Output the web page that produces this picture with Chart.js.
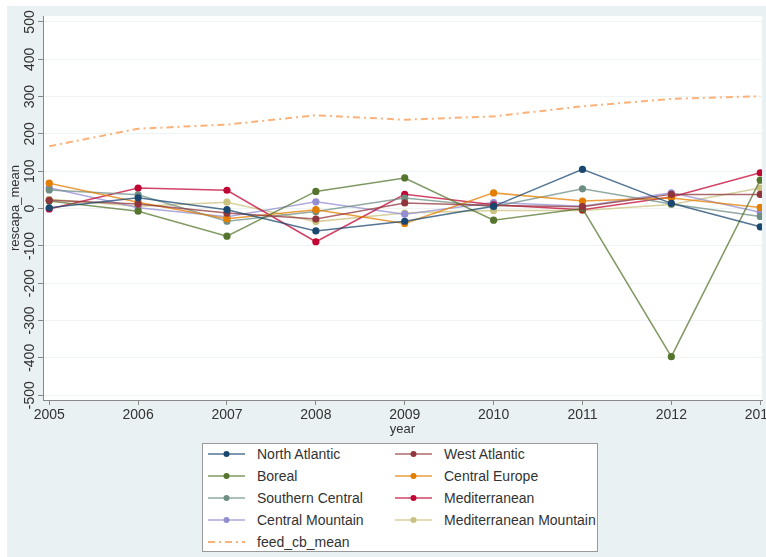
<!DOCTYPE html>
<html>
<head>
<meta charset="utf-8">
<script src="https://cdn.jsdelivr.net/npm/chart.js@4"></script>
<style>
  body { margin: 0; background: #fff; }
  #wrap { position: relative; width: 766px; height: 557px; }
  #legend {
    position: absolute; left: 202px; top: 443px; width: 396px; height: 109px;
    background: #fff; border: 1px solid #9a9a9a; box-sizing: border-box;
    font: 14px "Liberation Sans", Arial, sans-serif; color: #333;
  }
  .item { position: absolute; height: 20px; line-height: 20px; white-space: nowrap; }
  .item svg { position: absolute; left: 0; top: 4px; }
  .item span { position: absolute; left: 50px; }
</style>
</head>
<body>
<div id="wrap">
  <canvas id="myChart" width="766" height="557"></canvas>
  <div id="legend"></div>
</div>
<script>
const years = [2005, 2006, 2007, 2008, 2009, 2010, 2011, 2012, 2013];
const yTicks = [-500, -400, -300, -200, -100, 0, 100, 200, 300, 400, 500];

const northAtlantic = [2, 29, -3, -60, -34, 6, 105, 14, -49];
const westAtlantic = [22, 12, -12, -28, 15, 8, 5, 38, 38];
const boreal = [20, -7, -74, 46, 82, -31, 0, -397, 76];
const centralEurope = [68, 17, -27, -3, -40, 42, 20, 28, 3];
const southernCentral = [50, 37, -34, -8, 28, 5, 53, 12, -21];
const mediterranean = [-1, 55, 49, -89, 38, 10, -3, 31, 96];
const centralMountain = [56, 2, -22, 18, -15, 16, 6, 42, -10];
const mediterraneanMountain = [25, 6, 17, -35, -12, -5, -5, 11, 55];
const feedCbMean = [167, 214, 225, 250, 238, 247, 274, 294, 301];

const series = [
  ['North Atlantic', northAtlantic, '#1a476f'],
  ['West Atlantic', westAtlantic, '#90353b'],
  ['Boreal', boreal, '#55752f'],
  ['Central Europe', centralEurope, '#e37e00'],
  ['Southern Central', southernCentral, '#6e8e84'],
  ['Mediterranean', mediterranean, '#c10534'],
  ['Central Mountain', centralMountain, '#938dd2'],
  ['Mediterranean Mountain', mediterraneanMountain, '#cac27e'],
];
const feedColor = '#fbb27a';

function hexA(hex, a) {
  const n = parseInt(hex.slice(1), 16);
  return 'rgba(' + (n >> 16) + ',' + ((n >> 8) & 255) + ',' + (n & 255) + ',' + a + ')';
}

const datasets = series.map(([name, vals, col]) => ({
  label: name,
  data: years.map((y, i) => ({x: y, y: vals[i]})),
  borderColor: hexA(col, 0.75),
  backgroundColor: col,
  pointBackgroundColor: col,
  pointBorderWidth: 0,
  pointRadius: 3.6,
  borderWidth: 1.5,
  tension: 0,
}));
datasets.push({
  label: 'feed_cb_mean',
  data: years.map((y, i) => ({x: y, y: feedCbMean[i]})),
  borderColor: feedColor,
  borderDash: [7, 4, 2, 4],
  borderWidth: 2,
  pointRadius: 0,
  tension: 0,
});

const font = '"Liberation Sans", Arial, sans-serif';

const stataLook = {
  id: 'stataLook',
  beforeDraw(chart) {
    const {ctx, chartArea: a} = chart;
    ctx.save();
    ctx.fillStyle = '#fff';
    ctx.fillRect(0, 0, chart.width, chart.height);
    ctx.fillStyle = '#eaf1f3';
    ctx.fillRect(7, 6, chart.width - 7, chart.height - 6);
    ctx.fillStyle = '#fff';
    ctx.fillRect(a.left, a.top, a.right - a.left, a.bottom - a.top);
    ctx.restore();
  },
  afterDraw(chart) {
    const {ctx, chartArea: a} = chart;
    const xs = chart.scales.x, ys = chart.scales.y;
    ctx.save();
    ctx.fillStyle = '#333';
    ctx.font = '14px ' + font;
    ctx.textAlign = 'center';
    ctx.textBaseline = 'middle';
    years.forEach(v => ctx.fillText(String(v), xs.getPixelForValue(v), a.bottom + 15));
    ctx.font = '13px ' + font;
    ctx.fillText('year', (a.left + a.right) / 2, a.bottom + 29);
    yTicks.forEach(v => {
      ctx.save();
      ctx.translate(a.left - 13, ys.getPixelForValue(v));
      ctx.rotate(-Math.PI / 2);
      ctx.font = '14px ' + font;
      ctx.fillText(String(v), 0, 0);
      ctx.restore();
    });
    ctx.translate(15, (a.top + a.bottom) / 2);
    ctx.rotate(-Math.PI / 2);
    ctx.font = '13px ' + font;
    ctx.fillText('rescapa_mean', 0, 0);
    ctx.restore();
  }
};

const config = {
  type: 'line',
  data: {datasets: datasets},
  options: {
    responsive: false,
    animation: false,
    layout: {padding: {left: 38, top: 16, right: 3, bottom: 152}},
    plugins: {legend: {display: false}, tooltip: {enabled: false}},
    scales: {
      x: {
        type: 'linear', min: 2004.93, max: 2013.02,
        afterBuildTicks: (ax) => { ax.ticks = years.map(v => ({value: v})); },
        ticks: {display: false},
        grid: {drawOnChartArea: false, tickLength: 5, color: '#888'},
        border: {color: '#888'},
      },
      y: {
        min: -513, max: 516,
        afterBuildTicks: (ax) => { ax.ticks = yTicks.map(v => ({value: v})); },
        ticks: {display: false},
        grid: {color: '#eef4f4', tickColor: '#888', tickLength: 5},
        border: {color: '#888'},
      }
    }
  },
  plugins: [stataLook]
};

new Chart(document.getElementById('myChart'), config);

// legend box, built from the same series
const legend = document.getElementById('legend');
const entries = series.map(s => [s[0], s[2], false]).concat([['feed_cb_mean', feedColor, true]]);
entries.forEach(([name, col, dashed], i) => {
  const d = document.createElement('div');
  d.className = 'item';
  d.style.left = (i % 2 ? 191 : 4) + 'px';
  d.style.top = (Math.floor(i / 2) * 22 + 0) + 'px';
  const line = dashed
    ? '<line x1="1" y1="6" x2="38" y2="6" stroke="' + col + '" stroke-width="2" stroke-dasharray="7 4 2 4"/>'
    : '<line x1="1" y1="6" x2="38" y2="6" stroke="' + hexA(col, 0.75) + '" stroke-width="1.5"/>' +
      '<circle cx="19.5" cy="6" r="3" fill="' + col + '"/>';
  d.innerHTML = '<svg width="40" height="12">' + line + '</svg><span>' + name + '</span>';
  legend.appendChild(d);
});
</script>
</body>
</html>
